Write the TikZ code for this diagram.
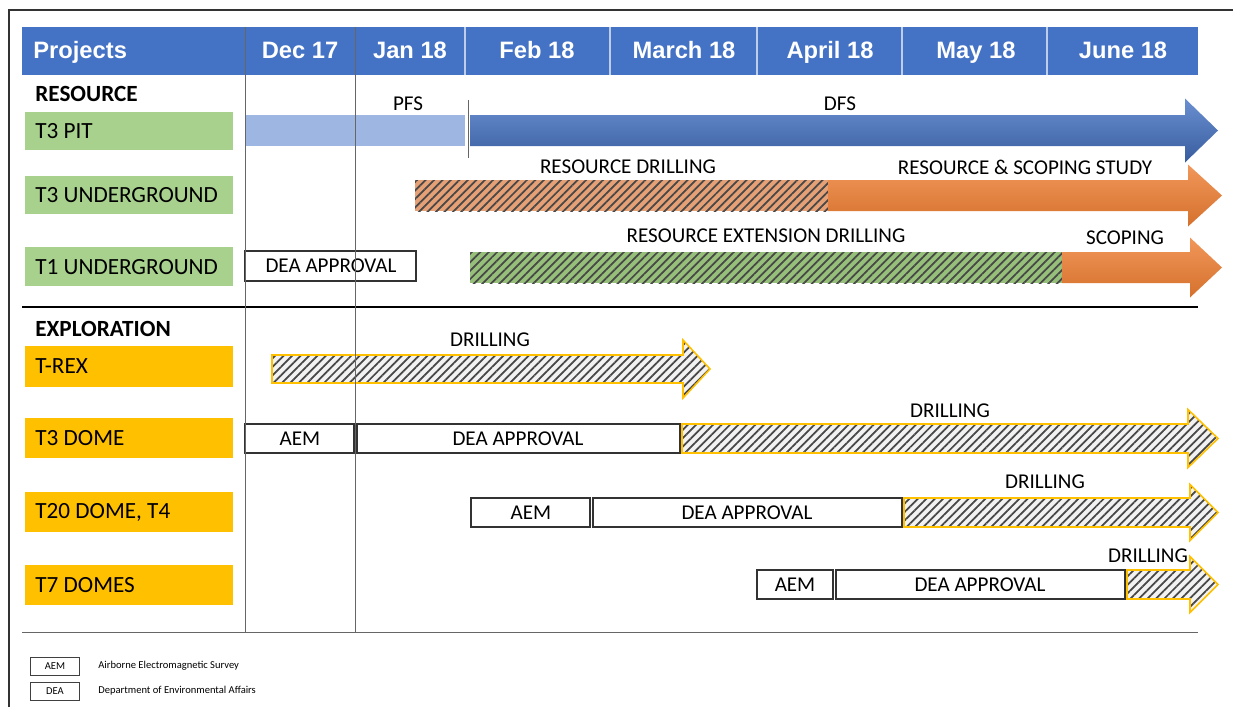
\documentclass[tikz,border=0pt]{standalone}
\usepackage{fontspec}
\setmainfont{Carlito}
\newfontfamily\hdrfont{Liberation Sans}
\usetikzlibrary{patterns.meta}
\definecolor{hdrblue}{RGB}{68,114,196}
\definecolor{resgreen}{RGB}{169,209,142}
\definecolor{expgold}{RGB}{255,192,0}
\definecolor{pfsblue}{RGB}{157,182,226}
\definecolor{dfsblue}{RGB}{70,116,198}
\definecolor{studyorange}{RGB}{237,125,49}
\definecolor{drilltan}{RGB}{230,160,118}
\definecolor{drillgreen}{RGB}{150,192,122}
\tikzset{
  hdrtxt/.style={font=\hdrfont\bfseries\fontsize{13.5}{16}\selectfont, text=white, inner sep=0pt, anchor=base},
  rowlbl/.style={font=\fontsize{13.2}{15}\selectfont, anchor=west, inner sep=0pt},
  grplbl/.style={anchor=west, inner sep=0pt, font=\bfseries\fontsize{13.2}{15}\selectfont},
  barlbl/.style={font=\fontsize{12}{14}\selectfont, inner sep=0pt},
  phasebox/.style={draw=black!80, line width=0.7pt, fill=white},
  hatch/.style={preaction={fill=#1}, pattern={Lines[angle=45,distance=3.4pt,line width=1pt]}, pattern color=black!72},
  drillarrow/.style={hatch=black!5, draw=expgold, line width=0.9pt},
  gridline/.style={draw=black!60, line width=0.5pt},
  hdrsep/.style={draw=white!65!hdrblue, line width=0.6pt},
  legbox/.style={draw=black!75, line width=0.5pt, font=\fontsize{6}{7}\selectfont, minimum width=0.98cm, minimum height=0.36cm, inner sep=0pt},
  legtxt/.style={font=\fontsize{6}{7}\selectfont, anchor=west, inner sep=0pt}
}
% #1 style, #2 start x, #3 mid y, #4 body half height, #5 head x, #6 tip x, #7 head half height
\newcommand\ganttarrow[7]{%
  \path[#1] (#2,#3-#4) -- (#5,#3-#4) -- (#5,#3-#7) -- (#6,#3) -- (#5,#3+#7)
    -- (#5,#3+#4) -- (#2,#3+#4) -- cycle;}
\begin{document}
\begin{tikzpicture}[x=0.02cm, y=-0.02cm]
  \useasboundingbox (0,0) rectangle (1233,707);
  % frame
  \draw[black!80, line width=0.6pt] (9,707) -- (9,10) -- (1233,10);

  % header band
  \fill[hdrblue] (22,27) rectangle (1198,75);
  \foreach \x in {465,610,757,902,1047}
    \draw[hdrsep] (\x,27) -- (\x,75);
  \node[hdrtxt, anchor=base west] (hproj) at (33,58) {Projects};
  \node[hdrtxt] (hdec) at (300,58) {Dec 17};
  \node[hdrtxt] (hjan) at (410,58) {Jan 18};
  \node[hdrtxt] (hfeb) at (537,58) {Feb 18};
  \node[hdrtxt] (hmar) at (684,58) {March 18};
  \node[hdrtxt] (hapr) at (830,58) {April 18};
  \node[hdrtxt] (hmay) at (976,58) {May 18};
  \node[hdrtxt] (hjun) at (1123,58) {June 18};

  % resource rows
  \node[grplbl] (resource) at (35,94) {RESOURCE};
  \fill[resgreen] (25,112) rectangle (233,150);
  \node[rowlbl] (t3pit) at (35,131) {T3 PIT};
  \fill[resgreen] (25,176) rectangle (233,214);
  \node[rowlbl] (t3ug) at (35,195) {T3 UNDERGROUND};
  \fill[resgreen] (25,247) rectangle (233,286);
  \node[rowlbl] (t1ug) at (35,267) {T1 UNDERGROUND};

  % T3 pit
  \fill[pfsblue] (245,115) rectangle (465,146);
  \ganttarrow{top color=dfsblue!80!white, bottom color=dfsblue!80!black}{470}{130.5}{15.5}{1185}{1218}{32}
  \draw[black!60] (468,100) -- (468,158);
  \node[barlbl] (pfs) at (408,104) {PFS};
  \node[barlbl] (dfs) at (840,104) {DFS};

  % T3 underground
  \path[hatch=drilltan] (415,180) rectangle (828,211);
  \ganttarrow{top color=studyorange!80!white, bottom color=studyorange!90!black}{828}{195.5}{15.5}{1188}{1222}{31}
  \node[barlbl] (resdrill) at (628,167) {RESOURCE DRILLING};
  \node[barlbl] (scopestudy) at (1025,167) {RESOURCE \& SCOPING STUDY};

  % T1 underground
  \draw[phasebox] (245,251) rectangle (416,281);
  \node[barlbl] (t1dea) at (331,266) {DEA APPROVAL};
  \path[hatch=drillgreen] (470,252) rectangle (1062,283);
  \ganttarrow{top color=studyorange!80!white, bottom color=studyorange!90!black}{1062}{267.5}{15.5}{1190}{1222}{30}
  \node[barlbl] (extdrill) at (766,236) {RESOURCE EXTENSION DRILLING};
  \node[barlbl] (scoping) at (1125,238) {SCOPING};

  \draw[black, line width=1.4pt] (22,307) -- (1198,307);

  % exploration rows
  \node[grplbl] (explor) at (35,329) {EXPLORATION};
  \fill[expgold] (25,346) rectangle (233,387);
  \node[rowlbl] (trex) at (35,366) {T-REX};
  \fill[expgold] (25,418) rectangle (233,458);
  \node[rowlbl] (t3dome) at (35,438) {T3 DOME};
  \fill[expgold] (25,492) rectangle (233,532);
  \node[rowlbl] (t20dome) at (35,512) {T20 DOME, T4};
  \fill[expgold] (25,565) rectangle (233,605);
  \node[rowlbl] (t7domes) at (35,585) {T7 DOMES};

  % T-REX
  \ganttarrow{drillarrow}{272}{369}{14}{683}{710}{29}
  \node[barlbl] (trexdrill) at (490,340) {DRILLING};

  % T3 dome
  \draw[phasebox] (245,424) rectangle (354,453);
  \node[barlbl] (t3aem) at (300,438.5) {AEM};
  \draw[phasebox] (357,424) rectangle (680,453);
  \node[barlbl] (t3dea) at (518,438.5) {DEA APPROVAL};
  \ganttarrow{drillarrow}{682}{438.5}{14.5}{1188}{1218}{29}
  \node[barlbl] (t3drill) at (950,411) {DRILLING};

  % T20 dome, T4
  \draw[phasebox] (471,498) rectangle (590,527);
  \node[barlbl] (t20aem) at (531,512.5) {AEM};
  \draw[phasebox] (593,498) rectangle (902,527);
  \node[barlbl] (t20dea) at (747,512.5) {DEA APPROVAL};
  \ganttarrow{drillarrow}{904}{512.5}{14.5}{1190}{1218}{28}
  \node[barlbl] (t20drill) at (1045,482) {DRILLING};

  % T7 domes
  \draw[phasebox] (757,570) rectangle (833,599);
  \node[barlbl] (t7aem) at (795,584.5) {AEM};
  \draw[phasebox] (836,570) rectangle (1125,599);
  \node[barlbl] (t7dea) at (980,584.5) {DEA APPROVAL};
  \ganttarrow{drillarrow}{1127}{584.5}{14.5}{1190}{1218}{28}
  \node[barlbl] (t7drill) at (1148,556) {DRILLING};

  % grid
  \draw[gridline] (245,27) -- (245,632);
  \draw[gridline] (355,27) -- (355,632);
  \draw[gridline] (22,632) -- (1198,632);

  % legend
  \node[legbox] (legaem) at (55,666) {AEM};
  \node[legtxt] (legaemtxt) at (98,666) {Airborne Electromagnetic Survey};
  \node[legbox] (legdea) at (55,691) {DEA};
  \node[legtxt] (legdeatxt) at (98,691) {Department of Environmental Affairs};
\end{tikzpicture}
\end{document}
